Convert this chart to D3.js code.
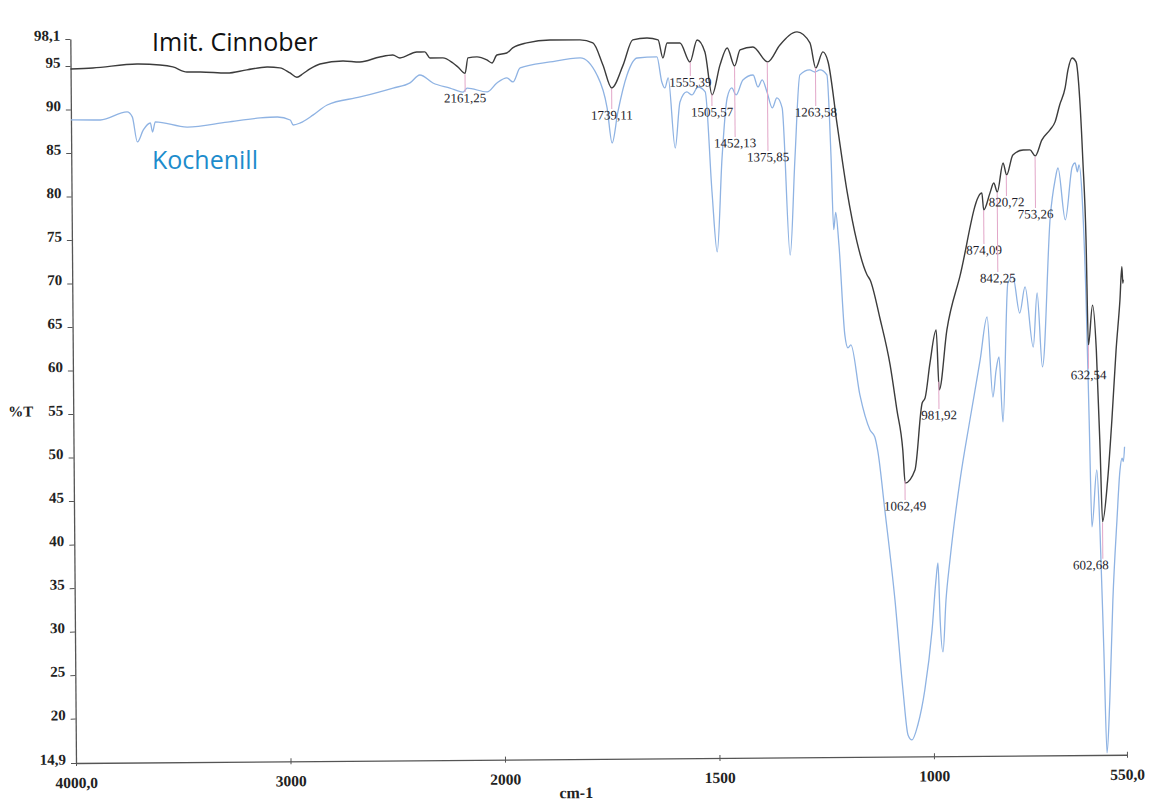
<!DOCTYPE html>
<html>
<head>
<meta charset="utf-8">
<script src="https://cdn.jsdelivr.net/npm/d3@7"></script>
<style>
  body { margin: 0; background: #fff; }
  svg { display: block; }
</style>
</head>
<body>
<svg id="chart" width="1149" height="806"></svg>
<script>
// Axis ticks (wavenumber in cm-1, transmittance in %T)
const xTicks = [4000, 3000, 2000, 1500, 1000, 550];
const xTickLabels = ["4000,0", "3000", "2000", "1500", "1000", "550,0"];
const yTicks = [98.1, 95, 90, 85, 80, 75, 70, 65, 60, 55, 50, 45, 40, 35, 30, 25, 20, 14.9];
const yTickLabels = ["98,1", "95", "90", "85", "80", "75", "70", "65", "60", "55", "50", "45", "40", "35", "30", "25", "20", "14,9"];

// Imit. Cinnober spectrum: [wavenumber, %T]
const cinnober = [
  [4000, 94.65], [3896, 94.75], [3690, 95.17], [3583, 95.04], [3523, 94.8], [3457, 94.2],
  [3397, 94.2], [3271, 94.05], [3178, 94.4], [3084, 94.7], [3024, 94.6], [2977, 94.0],
  [2945, 93.5], [2917, 93.9], [2884, 94.45], [2837, 95.0], [2730, 95.33], [2651, 95.2],
  [2558, 95.76], [2497, 95.97], [2464, 95.63], [2385, 96.3], [2348, 96.3], [2324, 95.6],
  [2264, 95.6], [2217, 95.0], [2194, 94.54], [2161, 93.8], [2147, 95.57], [2105, 95.68],
  [2059, 95.32], [2035, 94.97], [2012, 95.88], [1983, 96.1], [1969, 96.68], [1936, 97.24],
  [1882, 97.56], [1812, 97.54], [1782, 97.18], [1759, 94.64], [1739, 91.99], [1712, 94.6],
  [1689, 97.49], [1656, 97.7], [1630, 97.47], [1619, 95.39], [1609, 97.1], [1579, 97.1],
  [1556, 94.9], [1539, 97.43], [1521, 96.04], [1505, 91.1], [1486, 94.54], [1469, 96.48],
  [1452, 94.4], [1439, 96.24], [1409, 96.57], [1375, 94.84], [1346, 96.78], [1306, 98.26],
  [1276, 96.98], [1263, 94.1], [1246, 95.94], [1234, 94.78], [1214, 87.54], [1192, 79.83],
  [1170, 74.07], [1147, 70.27], [1140, 69.69], [1118, 65.31], [1095, 59.91], [1080, 54.73],
  [1067, 50.12], [1062, 46.33], [1039, 47.82], [1021, 55.51], [1014, 56.09], [1002, 60.1],
  [987, 63.89], [981, 57.0], [962, 63.88], [931, 69.96], [878, 79.59], [874, 77.63],
  [859, 79.59], [850, 80.72], [842, 79.69], [828, 83.02], [820, 81.63], [805, 83.93],
  [781, 84.49], [765, 84.49], [753, 83.8], [737, 85.63], [718, 86.77], [706, 87.69],
  [695, 89.63], [682, 91.58], [675, 93.65], [665, 95.02], [656, 94.56], [648, 90.19],
  [642, 83.29], [636, 74.09], [632.5, 62.0], [622, 66.6], [614, 61.4], [607, 50.0],
  [602.7, 41.7], [590, 46.5], [579, 53.4], [568, 61.4], [558, 67.2], [553, 71.0],
  [551, 69.1], [550, 69.5]
];

// Kochenill spectrum: [wavenumber, %T]
const kochenill = [
  [4000, 88.8], [3863, 88.77], [3738, 89.67], [3714, 89.1], [3691, 86.21], [3663, 87.59],
  [3630, 88.38], [3620, 87.34], [3607, 88.5], [3458, 87.88], [3271, 88.42], [3118, 88.86],
  [3038, 88.95], [2978, 88.6], [2964, 88.02], [2931, 88.25], [2870, 89.16], [2805, 90.29],
  [2651, 91.18], [2497, 92.18], [2418, 92.75], [2372, 93.65], [2311, 92.72], [2232, 92.12],
  [2171, 91.65], [2152, 92.11], [2059, 91.64], [2013, 92.66], [1983, 93.23], [1969, 92.77],
  [1952, 94.37], [1882, 95.03], [1812, 95.47], [1773, 93.49], [1750, 89.7], [1739, 85.67],
  [1725, 89.23], [1703, 93.47], [1679, 95.41], [1633, 95.51], [1622, 92.63], [1615, 91.94],
  [1607, 93.09], [1592, 85.03], [1580, 90.32], [1564, 91.46], [1552, 91.11], [1538, 92.02],
  [1521, 91.45], [1507, 79.94], [1496, 73.05], [1483, 83.85], [1470, 90.73], [1459, 91.88],
  [1449, 91.08], [1433, 92.79], [1409, 93.35], [1398, 91.97], [1388, 92.77], [1377, 91.39],
  [1365, 89.55], [1354, 90.69], [1342, 89.54], [1326, 72.63], [1313, 83.78], [1300, 93.32],
  [1277, 93.88], [1265, 93.64], [1253, 93.87], [1237, 93.29], [1229, 84.0], [1224, 75.5],
  [1219, 77.5], [1212, 73.7], [1200, 63.4], [1193, 61.9], [1186, 62.25], [1166, 56.49],
  [1143, 52.46], [1132, 51.65], [1125, 49.92], [1110, 43.25], [1088, 32.9], [1071, 22.54],
  [1060, 17.37], [1051, 16.8], [1037, 18.51], [1020, 22.53], [1002, 29.42], [992, 35.16],
  [987, 37.11], [983, 30.56], [977, 26.88], [969, 32.85], [959, 37.45], [934, 46.63],
  [910, 53.51], [885, 60.4], [868, 65.34], [856, 56.13], [848, 59.23], [841, 60.73],
  [833, 53.26], [819, 69.22], [807, 69.91], [792, 65.76], [779, 68.75], [761, 61.84],
  [751, 68.05], [740, 59.55], [719, 76.77], [707, 81.02], [700, 82.39], [684, 76.42],
  [667, 82.5], [660, 82.95], [655, 81.92], [651, 82.72], [644, 78.7], [637, 67.2],
  [632, 53.41], [627.5, 41.11], [615, 47.65], [609, 41.1], [602, 26.97], [596.5, 15.13],
  [589, 21.21], [580, 32.7], [569, 41.9], [561, 47.64], [556, 49.0], [553, 48.6], [550, 50.3]
];

// Peak annotations of the Imit. Cinnober trace
const peakWavenumbers = [2161.25, 1739.11, 1555.39, 1505.57, 1452.13, 1375.85, 1263.58,
  1062.49, 981.92, 874.09, 842.25, 820.72, 753.26, 632.54, 602.68];
// %T level at which each peak label is written, and a horizontal nudge in px
const peakLabelLevels = [90.98, 88.88, 92.6, 89.14, 85.56, 83.92, 89.04,
  43.69, 54.12, 73.04, 69.81, 78.53, 77.13, 58.6, 36.75];
const peakLabelNudge = [0, 0, 0, 0, 0, 0, 0, 0, 0, 0, 0, 0, 0, 0, -12];

const svg = d3.select("#chart");
const plotLeft = 76, plotRight = 1127, plotTop = 39, plotBottom = 763;

// FTIR-style abscissa: the scale doubles below 2000 cm-1
const x = d3.scaleLinear().domain([4000, 2000, 550]).range([plotLeft, 505, plotRight]);
const y = d3.scaleLinear().domain([14.9, 98.1]).range([plotBottom, plotTop]);

const serif = "'Liberation Serif', 'Times New Roman', serif";
const plot = svg.append("g").attr("transform", `rotate(-0.45 ${plotLeft} ${plotBottom})`);

// Y axis
const yAxisG = plot.append("g")
  .attr("transform", `translate(${plotLeft},0)`)
  .call(d3.axisLeft(y).tickValues(yTicks)
    .tickFormat((d, i) => yTickLabels[i])
    .tickSizeInner(5).tickSizeOuter(0).tickPadding(5));
yAxisG.select(".domain").attr("stroke", "#555").attr("stroke-width", 1.3);
yAxisG.selectAll(".tick line").attr("stroke", "#555");
yAxisG.selectAll(".tick text")
  .attr("dy", "0.07em")
  .style("font-family", serif).style("font-size", "15px")
  .style("font-weight", "bold").attr("fill", "#222");

// X axis
const xAxisG = plot.append("g")
  .attr("transform", `translate(0,${plotBottom})`)
  .call(d3.axisBottom(x).tickValues(xTicks)
    .tickFormat((d, i) => xTickLabels[i])
    .tickSizeInner(4).tickSizeOuter(0).tickPadding(10));
xAxisG.select(".domain").attr("stroke", "#555").attr("stroke-width", 1.3);
xAxisG.selectAll(".tick line").attr("stroke", "#555").attr("y1", -3).attr("y2", 3);
xAxisG.selectAll(".tick text")
  .style("font-family", serif).style("font-size", "15.5px")
  .style("font-weight", "bold").attr("fill", "#222");

// Axis titles
plot.append("text").attr("x", 11).attr("y", 416)
  .style("font-family", serif).style("font-size", "15px").style("font-weight", "bold")
  .attr("fill", "#222").text("%T");
plot.append("text").attr("x", 576).attr("y", 802).attr("text-anchor", "middle")
  .style("font-family", serif).style("font-size", "16px").style("font-weight", "bold")
  .attr("fill", "#222").text("cm-1");

// Spectra
const line = d3.line().x(d => x(d[0])).y(d => y(d[1])).curve(d3.curveMonotoneX);
plot.append("path").datum(kochenill)
  .attr("fill", "none").attr("stroke", "#8fb3e3").attr("stroke-width", 1.3)
  .attr("stroke-linejoin", "round").attr("d", line);
plot.append("path").datum(cinnober)
  .attr("fill", "none").attr("stroke", "#3c3c3c").attr("stroke-width", 1.4)
  .attr("stroke-linejoin", "round").attr("d", line);

// %T of the Cinnober trace at a given wavenumber (linear between samples)
function cinnoberAt(w) {
  for (let i = 0; i < cinnober.length - 1; i++) {
    const a = cinnober[i], b = cinnober[i + 1];
    if (w <= a[0] && w >= b[0]) {
      const t = (a[0] - w) / (a[0] - b[0]);
      return a[1] + t * (b[1] - a[1]);
    }
  }
  return cinnober[cinnober.length - 1][1];
}

// Peak markers and labels
const peaks = plot.append("g");
peakWavenumbers.forEach((w, i) => {
  const px = x(w);
  const yCurve = y(cinnoberAt(w)) + 1;
  const yLabel = y(peakLabelLevels[i]);
  if (yLabel - 6 > yCurve) {
    peaks.append("line")
      .attr("x1", px).attr("x2", px)
      .attr("y1", yCurve).attr("y2", yLabel - 6)
      .attr("stroke", "#e2a6c8").attr("stroke-width", 1);
  }
  peaks.append("text")
    .attr("x", px + peakLabelNudge[i]).attr("y", yLabel + 4.5)
    .attr("text-anchor", "middle")
    .style("font-family", serif).style("font-size", "13px")
    .attr("fill", "#1c1c2a")
    .text(w.toFixed(2).replace(".", ","));
});

// Sample names
svg.append("text").attr("x", 152).attr("y", 51)
  .style("font-family", "'Open Sans', sans-serif").style("font-size", "25px")
  .attr("fill", "#111").text("Imit. Cinnober");
svg.append("text").attr("x", 152).attr("y", 169)
  .style("font-family", "'Open Sans', sans-serif").style("font-size", "25px")
  .attr("fill", "#1d8ccc").text("Kochenill");
</script>
</body>
</html>
